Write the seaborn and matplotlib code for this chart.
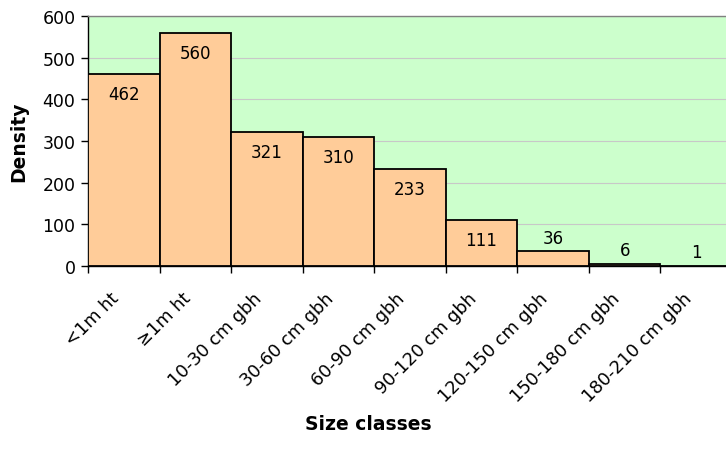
import numpy as np
import pandas as pd
import matplotlib
matplotlib.use("Agg")
import matplotlib.pyplot as plt
import matplotlib.transforms as mtransforms
import seaborn as sns

categories = ["<1m ht", "\u22651m ht", "10-30 cm gbh", "30-60 cm gbh", "60-90 cm gbh",
              "90-120 cm gbh", "120-150 cm gbh", "150-180 cm gbh", "180-210 cm gbh"]
density = [462, 560, 321, 310, 233, 111, 36, 6, 1]

df = pd.DataFrame({"size_class": categories, "density": density})

sns.set_style("white")
plt.rcParams["font.family"] = ["DejaVu Sans"]
plt.rcParams["text.color"] = "black"
plt.rcParams["xtick.color"] = "black"
plt.rcParams["ytick.color"] = "black"
plt.rcParams["axes.labelcolor"] = "black"

fig = plt.figure(figsize=(7.26, 4.64), dpi=100)
ax = fig.add_axes([88 / 726, 1 - 267 / 464, 644 / 726, 250 / 464])
ax.set_facecolor("#CCFFCC")

sns.barplot(data=df, x="size_class", y="density", color="#FFCC99", saturation=1,
            width=1.0, edgecolor="black", linewidth=1.3, ax=ax, zorder=3)

ax.set_ylim(0, 600)
ax.set_xlim(-0.5, len(categories) - 0.5)
ax.set_yticks(np.arange(0, 601, 100))
ax.yaxis.grid(True, color="#C8C8C8", linewidth=0.8, zorder=0)
ax.set_axisbelow(True)

# value labels: inside the top of tall bars, above the short ones
for i, v in enumerate(density):
    if v > 100:
        ax.text(i, v - 48, str(v), ha="center", va="center", fontsize=12, zorder=4)
    else:
        ax.text(i, v + 32, str(v), ha="center", va="center", fontsize=12, zorder=4)

# ticks at category boundaries, labels at centers
ax.set_xticks(np.arange(len(categories)))
ax.set_xticklabels(categories, rotation=45, ha="right", rotation_mode="anchor", fontsize=12.8)
ax.set_xticks(np.arange(len(categories) + 1) - 0.5, minor=True)
ax.tick_params(axis="x", which="major", length=0, pad=12)
ax.tick_params(axis="x", which="minor", length=5, width=1, color="black", direction="out", bottom=True)
ax.tick_params(axis="y", length=5, width=1, color="black", direction="out", left=True,
               labelsize=12.5, pad=4)

# nudge rotated labels left and down a bit
offset = mtransforms.ScaledTranslation(-14 / 100, -6 / 100, fig.dpi_scale_trans)
for lbl in ax.get_xticklabels():
    lbl.set_transform(lbl.get_transform() + offset)

for s in ["left", "bottom"]:
    ax.spines[s].set_color("black")
    ax.spines[s].set_linewidth(1)
for s in ["top", "right"]:
    ax.spines[s].set_color("#808080")
    ax.spines[s].set_linewidth(1)

ax.set_xlabel("")
ax.set_ylabel("Density", fontsize=13.5, fontweight="bold")
ax.yaxis.set_label_coords((28 - 88) / 644, 0.5)
fig.text(368 / 726, 1 - 425 / 464, "Size classes", ha="center", va="center",
         fontsize=13.5, fontweight="bold")

fig.savefig("out.png", dpi=100)
